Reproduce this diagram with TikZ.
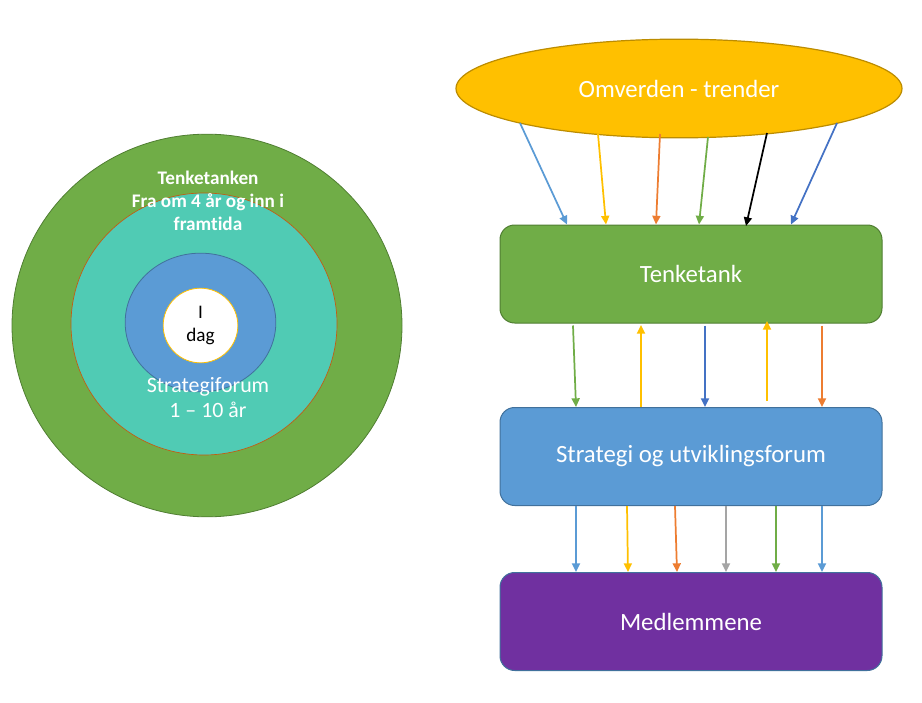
\documentclass[tikz,border=0pt]{standalone}
\usepackage{fontspec}
\setmainfont{Carlito}[Ligatures={NoCommon}]
\usetikzlibrary{shapes.geometric,arrows.meta}
\definecolor{cgreen}{HTML}{70AD47}
\definecolor{cgreenb}{HTML}{507E32}
\definecolor{cteal}{HTML}{50CBB4}
\definecolor{ctealb}{HTML}{C55A11}
\definecolor{cblue}{HTML}{5B9BD5}
\definecolor{cblueb}{HTML}{41719C}
\definecolor{cgold}{HTML}{FFC000}
\definecolor{cgoldb}{HTML}{BC8C00}
\definecolor{cpurple}{HTML}{7030A0}
\definecolor{corange}{HTML}{ED7D31}
\definecolor{cdblue}{HTML}{4472C4}
\definecolor{cgray}{HTML}{A5A5A5}
\begin{document}
\begin{tikzpicture}[x=0.75pt,y=-0.75pt,
  ring/.style={ellipse,inner sep=0pt,line width=0.6pt},
  boxnode/.style={rectangle,rounded corners=11pt,minimum width=286.5pt,minimum height=73.5pt,line width=0.75pt,text=white,font=\fontsize{18.6}{22}\selectfont},
  arr/.style={line width=1.3pt,-{Triangle[length=6.5pt,width=6pt]}},
  ctext/.style={align=center,inner sep=0pt}
]
\useasboundingbox (0,0) rectangle (922,703);
% concentric circles
\node[ring,fill=cgreen,draw=cgreenb,minimum width=292.5pt,minimum height=287pt] (c1) at (207,325.5) {};
\node[ring,fill=cteal,draw=ctealb,line width=0.5pt,minimum width=199.5pt,minimum height=196.5pt] (c2) at (204,324) {};
\node[ring,fill=cblue,draw=cblueb,minimum width=113pt,minimum height=104pt] (c3) at (200.5,322.5) {};
\node[ring,fill=white,draw=cgold,minimum width=56pt,minimum height=56pt] (c4) at (200.5,325.5) {};
\node[ctext,text=white,font=\fontsize{14.4}{17.2}\selectfont\bfseries] (t1) at (208,201) {Tenketanken\\Fra om 4 år og inn i\\framtida};
\node[ctext,text=black,font=\fontsize{14.4}{17.2}\selectfont] (t4) at (200.5,325.5) {I\\dag};
\node[ctext,text=white,font=\fontsize{16.4}{19}\selectfont] (t3) at (208,397.5) {Strategiforum\\1 – 10 år};
% right side
\node[ellipse,inner sep=0pt,fill=cgold,draw=cgoldb,line width=0.9pt,minimum width=334.5pt,minimum height=74pt,text=white,font=\fontsize{18.6}{22}\selectfont] (om) at (679,88.5) {Omverden - trender};
\node[boxnode,fill=cgreen,draw=cgreenb] (tank) at (691,274) {Tenketank};
\node[boxnode,fill=cblue,draw=cblueb] (sf) at (691,456.5) {Strategi og utviklingsforum};
\node[boxnode,fill=cpurple,draw=cblueb] (med) at (691,621.5) {Medlemmene};
% arrows omverden -> tenketank
\coordinate (o1) at (520,123);
\coordinate (o2) at (598,134);
\coordinate (o3) at (660,134);
\coordinate (o4) at (708,137);
\coordinate (o5) at (767,133);
\coordinate (o6) at (837,123);
\draw[arr,cblue] (o1) -- (567,0 |- tank.north);
\draw[arr,cgold] (o2) -- (606,0 |- tank.north);
\draw[arr,corange] (o3) -- (656,0 |- tank.north);
\draw[arr,cgreen] (o4) -- (699,0 |- tank.north);
\draw[arr,black] (o5) -- (746,226);
\draw[arr,cdblue] (o6) -- (791,0 |- tank.north);
% tenketank <-> strategi
\draw[arr,cgreen] (573,0 |- tank.south) ++(0,2) -- (576,0 |- sf.north);
\draw[arr,cgold] (641,0 |- sf.north) -- (641,325);
\draw[arr,cdblue] (705,0 |- tank.south) ++(0,2) -- (705,0 |- sf.north);
\draw[arr,cgold] (767,401) -- (767,321);
\draw[arr,corange] (822,0 |- tank.south) ++(0,2) -- (822,0 |- sf.north);
% strategi -> medlemmene
\draw[arr,cblue] (576,0 |- sf.south) -- (576,0 |- med.north);
\draw[arr,cgold] (627,0 |- sf.south) -- (628,0 |- med.north);
\draw[arr,corange] (675,0 |- sf.south) -- (677,0 |- med.north);
\draw[arr,cgray] (726,0 |- sf.south) -- (726,0 |- med.north);
\draw[arr,cgreen] (776,0 |- sf.south) -- (776,0 |- med.north);
\draw[arr,cblue] (822,0 |- sf.south) -- (822,0 |- med.north);
\end{tikzpicture}
\end{document}
